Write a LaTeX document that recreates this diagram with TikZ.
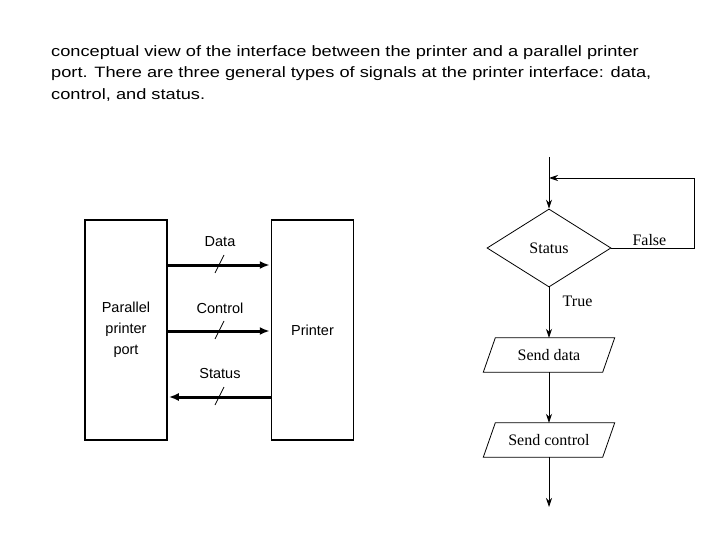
\documentclass[tikz,border=0pt]{standalone}
\usepackage{fontspec}
\setmainfont{Liberation Serif}
\newfontfamily\capfont{Liberation Sans}
\newfontfamily\widefont[FakeStretch=1.215]{Liberation Sans}
\usetikzlibrary{positioning}
\usetikzlibrary{shapes.geometric}
\usetikzlibrary{arrows.meta}

\begin{document}
\begin{tikzpicture}[x=1pt,y=-1pt]
        \tikzstyle{unit}=[draw, line width=1.5pt, minimum width=82pt, minimum height=220pt, inner sep=0pt, align=center, font=\capfont\fontsize{14.5}{21}\selectfont]
        \tikzstyle{sig label}=[font=\capfont\fontsize{14.5}{16}\selectfont]
        \tikzstyle{sig fwd}=[line width=3pt, -{Latex[length=10pt,width=8pt]}, shorten >=1pt]
        \tikzstyle{sig back}=[line width=3pt, {Latex[length=10pt,width=8pt]}-, shorten <=1pt]
        \tikzstyle{slash}=[line width=0.8pt]
        \tikzstyle{decision}=[draw, line width=0.8pt, diamond, minimum width=124pt, minimum height=78pt, inner sep=0pt]
        \tikzstyle{io}=[minimum width=119pt, minimum height=34pt, inner sep=0pt]
        \tikzstyle{flow}=[line width=0.8pt, -{Stealth[length=9pt,width=6pt]}]
        \tikzstyle{every node}=[font=\fontsize{16}{18}\selectfont]

        \useasboundingbox (0,0) rectangle (720,540);

        % Caption
        \node[anchor=north west, align=left, inner sep=0pt, font=\widefont\fontsize{15}{21.8}\selectfont] (caption) at (51,45)
            {conceptual view of the interface between the printer and a parallel printer\\
             port. There are three general types of signals at the printer interface: data,\\
             control, and status.};

        % Draw the two units
        \node[unit] (port) at (126,330) {Parallel\\printer\\port};
        \node[unit] (printer) at (312.5,330) {Printer};

        % Signals between port and printer
        \foreach \name / \off / \kind in {Data/65/sig fwd, Control/-1/sig fwd, Status/-67/sig back}
        {
            \draw[\kind] ([yshift=\off pt]port.east) -- ([yshift=\off pt]printer.west);
            \coordinate (s-\name) at ([yshift=\off pt]220,330);
            \draw[slash] ([xshift=-5pt,yshift=-8pt]s-\name) -- ([xshift=4pt,yshift=10pt]s-\name);
            \node[sig label] (l-\name) at ([yshift=23pt]s-\name) {\name};
        }

        % Draw the flowchart
        \node[decision] (status) at (549,248) {Status};
        \node[io] (senddata) at (549,355) {Send data};
        \node[io] (sendctrl) at (549,440) {Send control};
        \coordinate (start) at (549,157);
        \coordinate (join) at (549,178);
        \coordinate (loop) at (694,178);
        \coordinate (stop) at (549,507);

        % Slanted outline of the two steps
        \foreach \step in {senddata,sendctrl}
            \draw[line width=0.8pt] ([xshift=-6pt]\step.south west) -- ([xshift=6pt]\step.north west)
                -- ([xshift=6pt]\step.north east) -- ([xshift=-6pt]\step.south east) -- cycle;

        \draw[line width=0.8pt] (start) -- (join);
        \draw[flow] (join) -- (status.north);
        \draw[flow] (status.east) -| node[pos=0.5, above=-1pt, anchor=south east, xshift=-24pt] {False} (loop) -- (join);
        \draw[flow] (status.south) -- node[pos=0.27, right=10pt] {True} (senddata.north);
        \draw[flow] (senddata.south) -- (sendctrl.north);
        \draw[flow] (sendctrl.south) -- (stop);
\end{tikzpicture}
\end{document}
